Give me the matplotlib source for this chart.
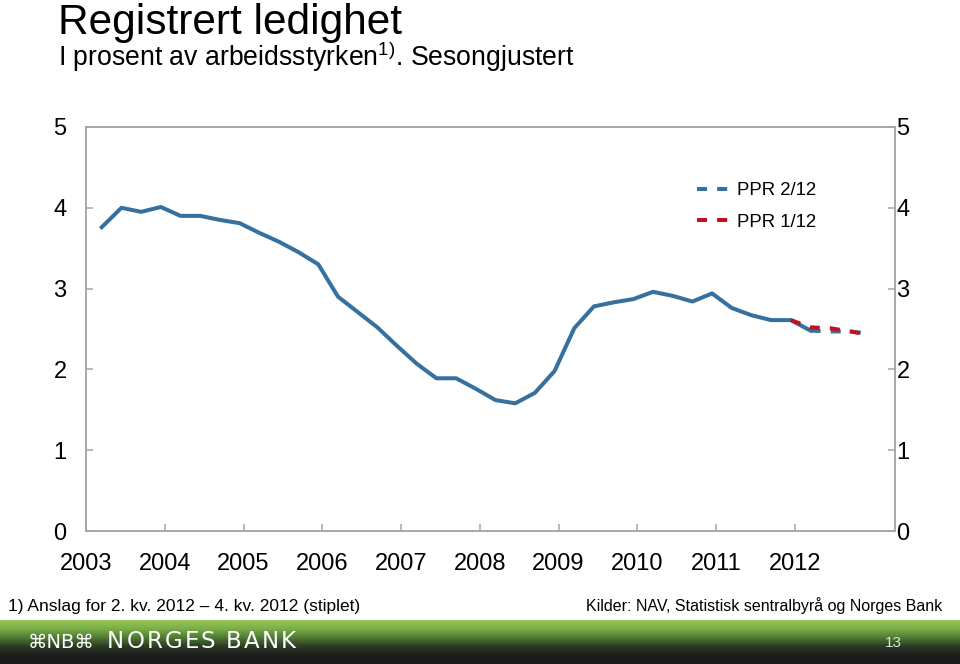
import numpy as np
import matplotlib
matplotlib.use("Agg")
import matplotlib.pyplot as plt
from matplotlib.colors import LinearSegmentedColormap

plt.rcParams['font.family'] = ['Liberation Sans', 'DejaVu Sans']
plt.rcParams['mathtext.fontset'] = 'custom'
plt.rcParams['mathtext.rm'] = 'Liberation Sans'
plt.rcParams['mathtext.it'] = 'Liberation Sans'

# Quarterly data, 2003 Q1 - 2012 Q4 (index 0 = 2003 Q1)
years = [2003, 2004, 2005, 2006, 2007, 2008, 2009, 2010, 2011, 2012]
actual = [3.76, 4.00, 3.95, 4.01, 3.90, 3.90, 3.85, 3.81, 3.69, 3.58,
          3.45, 3.30, 2.90, 2.71, 2.52, 2.29, 2.07, 1.89, 1.89, 1.76,
          1.62, 1.58, 1.71, 1.98, 2.51, 2.78, 2.83, 2.87, 2.96, 2.91,
          2.84, 2.94, 2.76, 2.67, 2.61, 2.61, 2.48]
ppr_2_12 = [2.48, 2.47, 2.47, 2.44]          # 2012 Q1 - Q4
ppr_1_12 = [2.61, 2.52, 2.51, 2.47, 2.43]    # 2011 Q4 - 2012 Q4

blue = "#35709f"
red = "#c0141c"
grey = "#a6a6a6"

fig = plt.figure(figsize=(9.6, 6.64), dpi=100)
fig.patch.set_facecolor("white")

ax = fig.add_axes([86 / 960, 1 - 531 / 664, (895 - 86) / 960, (531 - 127) / 664])

x_act = np.arange(len(actual))
ax.plot(x_act, actual, color=blue, lw=2.9, zorder=3)
x_b = np.arange(36, 36 + len(ppr_2_12))
ax.plot(x_b, ppr_2_12, color=blue, lw=2.9, ls=(0, (2.5, 2.5)), label="PPR 2/12", zorder=3)
x_r = np.arange(35, 35 + len(ppr_1_12))
ax.plot(x_r, ppr_1_12, color=red, lw=2.9, ls=(0, (2.5, 2.5)), label="PPR 1/12", zorder=4)

ax.set_xlim(-0.8, 40.29)
ax.set_ylim(0, 5)

ticks = [4 * i - 0.8 for i in range(len(years))]
ax.set_xticks(ticks)
ax.set_xticklabels([str(y) for y in years])
ax.tick_params(axis='x', direction='in', length=5, width=1.1, color=grey,
               labelsize=17, pad=16)
ax.set_yticks(range(6))
ax.tick_params(axis='y', direction='in', length=5, width=1.1, color=grey,
               labelsize=17, pad=14)

ax2 = ax.twinx()
ax2.set_ylim(0, 5)
ax2.set_yticks(range(6))
ax2.tick_params(axis='y', direction='in', length=5, width=1.1, color=grey,
                labelsize=17, pad=1)

for a in (ax, ax2):
    for s in a.spines.values():
        s.set_color(grey)
        s.set_linewidth(1.1)

handles, labels = ax.get_legend_handles_labels()
fig.legend(handles, labels, loc='upper left',
           bbox_to_anchor=(697 / 960, 1 - 182 / 664), frameon=False,
           fontsize=13.4, handlelength=1.7, handletextpad=0.45,
           labelspacing=0.78, borderpad=0, borderaxespad=0)

# Titles
fig.text(58 / 960, 1 - 34 / 664, "Registrert ledighet", fontsize=30.5,
         va='baseline', ha='left')
fig.text(58 / 960, 1 - 66 / 664, "I prosent av arbeidsstyrken$^{1)}$. Sesongjustert",
         fontsize=19.2, va='baseline', ha='left')

# Footnotes
fig.text(8 / 960, 1 - 606 / 664, "1) Anslag for 2. kv. 2012 \u2013 4. kv. 2012 (stiplet)",
         fontsize=12.5, va='center', ha='left')
fig.text(942 / 960, 1 - 606 / 664, "Kilder: NAV, Statistisk sentralbyr\u00e5 og Norges Bank",
         fontsize=11.5, va='center', ha='right')

# Bottom banner
bax = fig.add_axes([0, 0, 1, 44 / 664])
cmap = LinearSegmentedColormap.from_list(
    "banner", ["#96c85c", "#7cae47", "#4e7a33", "#2c3a26", "#1c1d1b", "#1a1a1a"])
grad = np.linspace(0, 1, 256).reshape(-1, 1)
bax.imshow(grad, aspect='auto', cmap=cmap, extent=[0, 1, 0, 1], origin='upper')
bax.set_axis_off()
bax.text(28 / 960, 0.5, "\u2318NB\u2318", color="white", fontsize=14,
         va='center', ha='left', family='DejaVu Sans', transform=bax.transAxes)

# spaced-out wordmark, one letter at a time
renderer = fig.canvas.get_renderer()
xpos = 107
for ch in "NORGES BANK":
    t = fig.text(xpos / 960, 1 - 642 / 664, ch, color="white", fontsize=16.5,
                 va='center', ha='left', family='DejaVu Sans')
    w = t.get_window_extent(renderer).width if ch != " " else 6
    xpos += w + 2.2

fig.text(893 / 960, 1 - 643 / 664, "13", color="#e0e0e0", fontsize=11,
         va='center', ha='center')

fig.savefig("out.png", dpi=100)
